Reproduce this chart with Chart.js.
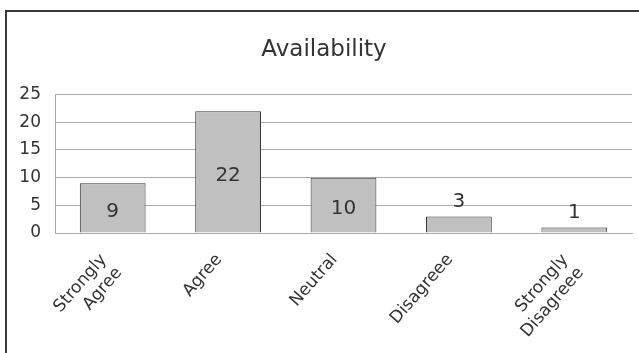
<!DOCTYPE html>
<html>
<head>
<meta charset="utf-8">
<script src="https://cdn.jsdelivr.net/npm/chart.js@4.4.1/dist/chart.umd.min.js"></script>
<style>
  html, body { margin: 0; padding: 0; background: #fff; overflow: hidden; }
  #frame {
    position: absolute; left: 5px; top: 10px;
    width: 700px; height: 400px;
    border-left: 2px solid #3a3a3a; border-top: 2px solid #3a3a3a;
  }
  #wrap { position: absolute; left: 0; top: 0; width: 639px; height: 353px; }
</style>
</head>
<body>
<div id="frame"></div>
<div id="wrap"><canvas id="chart" width="639" height="353"></canvas></div>
<script>
const chartTitle = 'Availability';
const categories = [['Strongly', 'Agree'], 'Agree', 'Neutral', 'Disagreee', ['Strongly', 'Disagreee']];
const responses = [9, 22, 10, 3, 1];
const yTicks = [0, 5, 10, 15, 20, 25];

const FONT = "'DejaVu Sans', 'Liberation Sans', Arial, sans-serif";
const TEXT = '#333333';
const GRID = '#ababab';

// Writes each bar's count: centred inside tall bars, just above short ones.
const valueLabels = {
  id: 'valueLabels',
  afterDatasetsDraw(chart) {
    const ctx = chart.ctx;
    const meta = chart.getDatasetMeta(0);
    ctx.save();
    ctx.font = '20px ' + FONT;
    ctx.fillStyle = TEXT;
    ctx.textAlign = 'center';
    ctx.textBaseline = 'middle';
    meta.data.forEach((bar, i) => {
      const v = chart.data.datasets[0].data[i];
      const y = v >= 5 ? (bar.y + bar.base) / 2 + 4 : bar.y - 15;
      ctx.fillText(String(v), bar.x, y);
    });
    ctx.restore();
  }
};

new Chart(document.getElementById('chart'), {
  type: 'bar',
  data: {
    labels: categories,
    datasets: [{
      data: responses,
      backgroundColor: '#c0c0c0',
      borderColor: '#353535',
      borderWidth: 1,
      borderSkipped: 'bottom',
      barPercentage: 0.57,
      categoryPercentage: 1
    }]
  },
  options: {
    responsive: false,
    animation: false,
    layout: { padding: { left: 16, right: 7, top: 0, bottom: 0 } },
    plugins: {
      legend: { display: false },
      tooltip: { enabled: false },
      title: {
        display: true,
        text: chartTitle,
        color: TEXT,
        font: { family: FONT, size: 23, weight: 'normal' },
        padding: { top: 36, bottom: 31 }
      }
    },
    scales: {
      x: {
        grid: { display: false },
        border: { display: true, color: GRID, width: 1 },
        ticks: {
          color: TEXT,
          font: { family: FONT, size: 17 },
          minRotation: 49,
          maxRotation: 49,
          autoSkip: false,
          padding: 9,
          labelOffset: -9
        },
        afterFit(scale) { scale.height = 120; }
      },
      y: {
        min: 0,
        max: 25,
        afterBuildTicks(scale) { scale.ticks = yTicks.map(v => ({ value: v })); },
        grid: { color: GRID, lineWidth: 1, drawTicks: false },
        border: { display: true, color: GRID, width: 1 },
        ticks: {
          color: TEXT,
          font: { family: FONT, size: 17 },
          padding: 14
        },
        afterFit(scale) { scale.width = 39; }
      }
    }
  },
  plugins: [valueLabels]
});
</script>
</body>
</html>
